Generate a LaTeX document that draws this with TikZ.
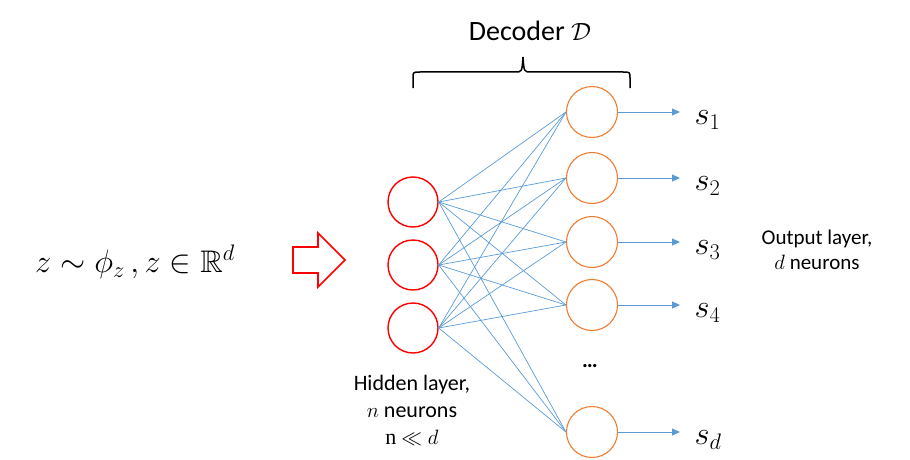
\documentclass[tikz,border=0pt]{standalone}
\usepackage{amssymb}
\usepackage{fontspec}
\setmainfont{Carlito}
\newfontfamily\uprserif{Liberation Serif}
\usetikzlibrary{arrows.meta}

\definecolor{hidred}{RGB}{255,0,0}
\definecolor{outorange}{RGB}{237,125,49}
\definecolor{linkblue}{RGB}{91,155,213}

\tikzset{
  hidden/.style={circle,draw=hidred,line width=1.4pt,minimum size=50pt,inner sep=0pt},
  outneuron/.style={circle,draw=outorange,line width=1.1pt,minimum size=51pt,inner sep=0pt},
  link/.style={draw=linkblue,line width=0.7pt},
  outarrow/.style={draw=linkblue,line width=1pt,-{Triangle[length=8pt,width=7pt]}},
  caption/.style={align=center,font=\fontsize{22}{27}\selectfont},
  bigmath/.style={scale=1.3,font=\fontsize{24}{28}\selectfont}
}

\begin{document}
\begin{tikzpicture}[x=1pt,y=-1pt]
\useasboundingbox (0,0) rectangle (910,460);

% input
\node[bigmath] (zin) at (135,262) {$z \sim \phi_z\,, z \in \mathbb{R}^d$};
\draw[hidred,line width=1.6pt] (293,247) -- (318,247) -- (318,233) -- (345,260)
   -- (318,287) -- (318,273) -- (293,273) -- cycle;

% hidden layer
\foreach \i/\y in {1/202,2/265,3/328}
  \node[hidden] (h\i) at (413,\y) {};

% output layer
\foreach \i/\y in {1/112,2/178,3/242,4/305,d/432}
{
  \node[outneuron] (o\i) at (592,\y) {};
  \coordinate (e\i) at (680,\y);
  \draw[outarrow] (o\i.east) -- (e\i);
  \node[bigmath,anchor=west] (s\i) at (690,\y+8) {$s_{\i}$};
}

% connections
\foreach \i in {1,2,3}
  \foreach \j in {1,2,3,4,d}
    \draw[link] (h\i.east) -- (o\j.west);

\node (dots) at (590,366) {\fontsize{22}{26}\selectfont\bfseries …};

% decoder brace
\draw[line width=1.5pt] (413,88) -- (413,78) .. controls (413,72) .. (420,72) -- (515,72)
   .. controls (522,72) .. (523,57) .. controls (524,72) .. (531,72) -- (623,72)
   .. controls (630,72) .. (630,78) -- (630,88);
\node (dec) at (530,31) {\fontsize{28}{32}\selectfont Decoder $\mathcal{D}$};

% captions
\node[caption] (hidcap) at (412,410) {Hidden layer,\\ $n$ neurons\\ {\uprserif n} $\ll d$};
\node[caption,font=\fontsize{21}{25}\selectfont] (outcap) at (817,250) {Output layer,\\ $d$ neurons};
\end{tikzpicture}
\end{document}
